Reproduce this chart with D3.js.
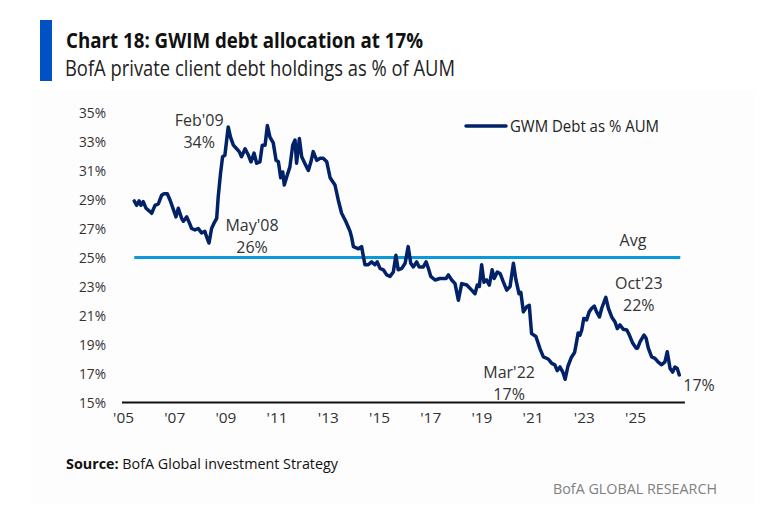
<!DOCTYPE html>
<html><head><meta charset="utf-8">
<script src="https://cdn.jsdelivr.net/npm/d3@7"></script>
<style>body{margin:0;background:#fff;}svg{display:block;font-family:"Open Sans",sans-serif;}</style>
</head><body>
<svg id="c" width="784" height="516"></svg>
<script>
// Data (decimal year, % of AUM)
const years = [2005.44,2005.53,2005.63,2005.70,2005.79,2005.90,2006.03,2006.12,2006.25,2006.38,2006.51,2006.60,2006.73,2006.84,2006.97,2007.07,2007.16,2007.29,2007.36,2007.49,2007.59,2007.68,2007.81,2007.94,2008.07,2008.20,2008.27,2008.36,2008.46,2008.55,2008.66,2008.72,2008.81,2008.89,2008.98,2009.05,2009.11,2009.20,2009.31,2009.44,2009.54,2009.63,2009.77,2009.90,2010.00,2010.12,2010.22,2010.35,2010.44,2010.55,2010.64,2010.74,2010.87,2010.98,2011.07,2011.16,2011.24,2011.30,2011.42,2011.52,2011.63,2011.72,2011.78,2011.89,2011.98,2012.10,2012.24,2012.34,2012.43,2012.57,2012.70,2012.82,2012.96,2013.09,2013.28,2013.41,2013.54,2013.70,2013.87,2013.93,2014.00,2014.20,2014.32,2014.45,2014.58,2014.71,2014.84,2014.93,2015.04,2015.17,2015.30,2015.43,2015.56,2015.66,2015.75,2015.89,2016.02,2016.14,2016.24,2016.34,2016.47,2016.57,2016.73,2016.84,2016.93,2017.02,2017.19,2017.38,2017.62,2017.71,2017.84,2017.97,2018.10,2018.23,2018.43,2018.62,2018.75,2018.84,2018.92,2019.01,2019.10,2019.20,2019.31,2019.42,2019.50,2019.62,2019.73,2019.86,2019.99,2020.12,2020.25,2020.35,2020.47,2020.54,2020.64,2020.77,2020.87,2020.96,2021.13,2021.29,2021.42,2021.61,2021.75,2021.87,2021.96,2022.07,2022.18,2022.27,2022.38,2022.51,2022.64,2022.72,2022.78,2022.85,2022.92,2023.00,2023.11,2023.21,2023.31,2023.41,2023.50,2023.61,2023.70,2023.86,2023.96,2024.09,2024.22,2024.31,2024.41,2024.54,2024.68,2024.78,2024.91,2025.04,2025.10,2025.20,2025.35,2025.43,2025.52,2025.65,2025.78,2025.90,2026.04,2026.17,2026.26,2026.37,2026.47,2026.56,2026.65,2026.73];
const debtPct = [28.9,28.6,28.9,28.6,28.85,28.4,28.2,28.05,28.6,28.7,29.3,29.4,29.4,28.95,28.3,27.8,28.4,27.7,27.5,27.8,27.4,27.0,26.9,27.0,26.7,26.8,26.4,26.0,27.0,27.35,27.7,29.2,30.8,31.95,32.05,33.1,34.0,33.3,32.75,32.5,32.3,31.95,32.5,32.05,31.6,32.2,31.5,31.6,32.75,32.75,34.1,33.3,32.9,31.7,31.6,30.5,30.9,30.0,30.7,31.25,32.75,33.1,31.5,33.2,31.95,31.5,31.0,31.6,32.3,31.7,31.85,31.85,31.6,30.5,30.0,28.95,28.05,27.5,26.8,26.4,25.75,25.6,25.75,24.5,24.5,24.7,24.5,24.7,24.25,24.15,23.8,23.7,24.0,25.15,24.15,24.25,24.6,25.75,24.6,24.35,24.7,24.35,24.35,24.7,24.25,23.7,23.45,23.55,23.55,23.8,23.45,23.2,22.05,23.2,23.1,22.75,22.5,23.1,23.0,24.5,23.3,23.45,23.1,24.15,23.55,24.0,23.9,23.3,22.75,23.0,24.6,23.45,22.5,22.6,21.25,21.6,21.7,19.75,19.55,18.7,18.15,18.0,17.7,17.6,17.2,17.45,17.1,16.6,17.5,18.1,18.45,19.2,19.8,19.65,20.0,20.8,20.7,21.25,21.5,21.65,21.25,20.9,21.5,22.25,21.5,20.9,20.55,20.1,20.35,20.05,20.0,19.65,19.1,18.75,18.75,19.2,19.65,19.45,18.75,18.15,18.05,17.8,17.6,17.8,18.5,17.35,17.1,17.45,17.35,16.9];
const avgValue = 25;
const yTicks = [15,17,19,21,23,25,27,29,31,33,35];
const xTicks = [2005,2007,2009,2011,2013,2015,2017,2019,2021,2023,2025];
const xTickLabels = ["'05","'07","'09","'11","'13","'15","'17","'19","'21","'23","'25"];
const annotations = [
  {year:2009.11, value:34.0, lines:["Feb'09","34%"], dx:-29, top:126},
  {year:2008.36, value:26.0, lines:["May'08","26%"], dx:43, top:231},
  {year:2022.27, value:16.6, lines:["Mar'22","17%"], dx:-56, top:378},
  {year:2023.86, value:22.25, lines:["Oct'23","22%"], dx:33, top:289}
];

const svg = d3.select("#c");
const x = d3.scaleLinear().domain([2005, 2025]).range([123, 635]);
const y = d3.scaleLinear().domain([15, 35]).range([402.5, 112.5]);

// faint panel background
svg.append("rect").attr("x",30).attr("y",90).attr("width",725).attr("height",415).attr("fill","#fdfdfd");

// title block
svg.append("rect").attr("x",40).attr("y",20).attr("width",12).attr("height",61).attr("fill","#0052c4");
svg.append("text").attr("x",66).attr("y",48).attr("font-size",21).attr("font-weight",700).attr("fill","#111")
  .attr("textLength",357).attr("lengthAdjust","spacingAndGlyphs").text("Chart 18: GWIM debt allocation at 17%");
svg.append("text").attr("x",65).attr("y",76).attr("font-size",21).attr("fill","#222")
  .attr("textLength",390).attr("lengthAdjust","spacingAndGlyphs").text("BofA private client debt holdings as % of AUM");

// y axis labels
svg.append("g").selectAll("text").data(yTicks).join("text")
  .attr("x",106).attr("y",d=>y(d)).attr("dy","0.35em").attr("text-anchor","end")
  .attr("font-size",15).attr("fill","#333").attr("textLength",27).attr("lengthAdjust","spacingAndGlyphs")
  .text(d=>d+"%");

// x axis
const xAxis = d3.axisBottom(x).tickValues(xTicks).tickSize(0).tickPadding(10)
  .tickFormat((d,i)=>xTickLabels[i]);
const gx = svg.append("g").attr("transform",`translate(0,${y(15)})`).call(xAxis);
gx.select(".domain").remove();
gx.selectAll("text").attr("font-size",15).attr("fill","#333").attr("font-family","Open Sans, sans-serif")
  .attr("textLength",21).attr("lengthAdjust","spacingAndGlyphs");
svg.append("line").attr("x1",x(2004.96)).attr("x2",x(2026.95)).attr("y1",y(15)).attr("y2",y(15))
  .attr("stroke","#111").attr("stroke-width",2);

// average line
svg.append("line").attr("x1",x(years[0])).attr("x2",x(years[years.length-1])+1)
  .attr("y1",y(avgValue)).attr("y2",y(avgValue)).attr("stroke","#0a9ad9").attr("stroke-width",3.2);
svg.append("text").attr("x",633).attr("y",246).attr("text-anchor","middle").attr("font-size",16).attr("fill","#333").text("Avg");

// main line
const data = years.map((d,i)=>({year:d, value:debtPct[i]}));
svg.append("path").datum(data)
  .attr("d", d3.line().x(d=>x(d.year)).y(d=>y(d.value)))
  .attr("fill","none").attr("stroke","#012169").attr("stroke-width",3.5)
  .attr("stroke-linejoin","round").attr("stroke-linecap","round");

// annotations
annotations.forEach(a=>{
  const cx = x(a.year)+a.dx;
  a.lines.forEach((t,i)=>{
    svg.append("text").attr("x",cx).attr("y",a.top+i*22).attr("text-anchor","middle")
      .attr("font-size",16).attr("fill","#333").text(t);
  });
});
const last = data[data.length-1];
svg.append("text").attr("x",x(last.year)+4).attr("y",y(last.value)+16).attr("font-size",16).attr("fill","#333").text("17%");

// legend
svg.append("line").attr("x1",466).attr("x2",506).attr("y1",126).attr("y2",126)
  .attr("stroke","#012169").attr("stroke-width",3.5).attr("stroke-linecap","round");
svg.append("text").attr("x",510).attr("y",131.5).attr("font-size",15.5).attr("fill","#222")
  .attr("textLength",149).attr("lengthAdjust","spacingAndGlyphs").text("GWM Debt as % AUM");

// source & footer
const src = svg.append("text").attr("x",66).attr("y",469).attr("font-size",14.5).attr("fill","#111")
  .attr("textLength",272).attr("lengthAdjust","spacingAndGlyphs");
src.append("tspan").attr("font-weight",700).text("Source:");
src.append("tspan").text(" BofA Global investment Strategy");
svg.append("text").attr("x",717).attr("y",494).attr("text-anchor","end").attr("font-size",15).attr("fill","#808080")
  .attr("textLength",164).attr("lengthAdjust","spacingAndGlyphs").text("BofA GLOBAL RESEARCH");
</script>
</body></html>
